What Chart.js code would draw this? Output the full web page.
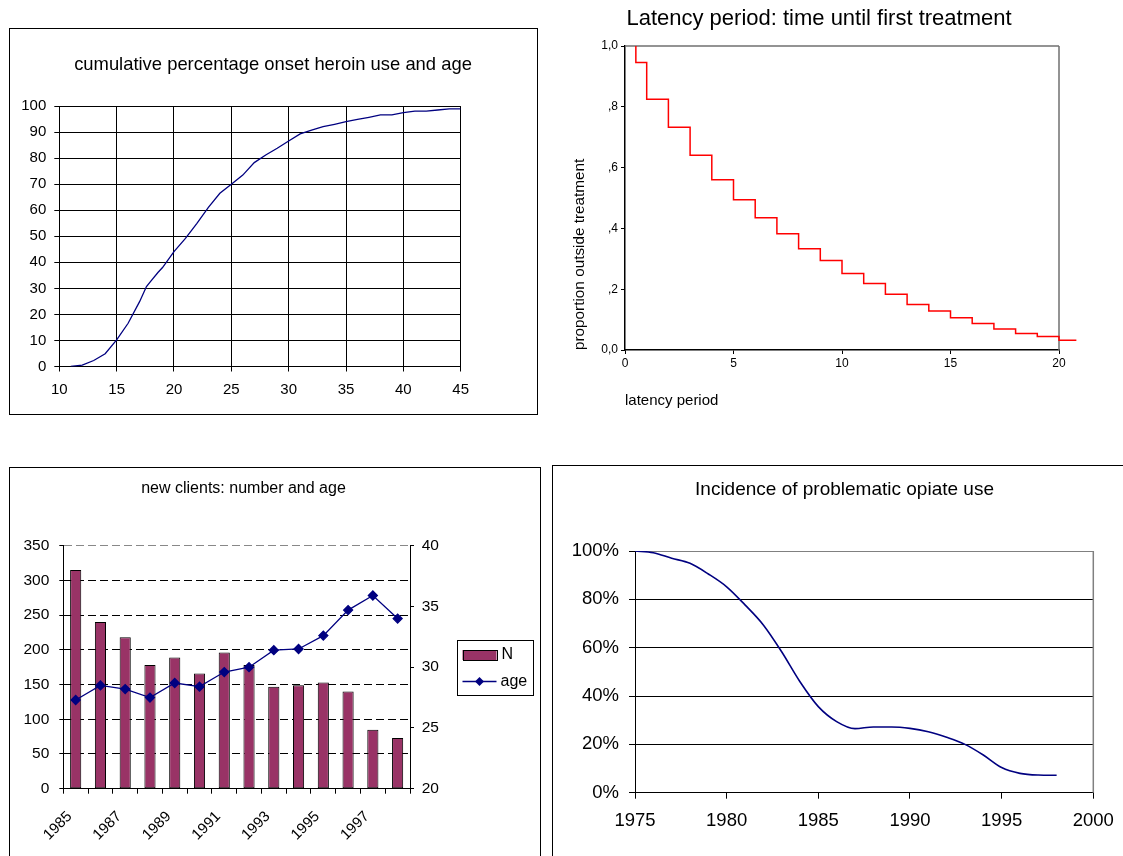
<!DOCTYPE html>
<html>
<head>
<meta charset="utf-8">
<title>Heroin use: onset, latency, new clients and incidence</title>
<script src="https://cdn.jsdelivr.net/npm/chart.js@4.4.1/dist/chart.umd.min.js"></script>
<style>
  html, body { margin: 0; padding: 0; background: #fff; overflow: hidden; }
  #page { position: relative; width: 1123px; height: 856px; overflow: hidden; background: #fff; }
  .frame { position: absolute; border: 1px solid #000; box-sizing: border-box; }
  canvas { position: absolute; }
</style>
</head>
<body>
<div id="page">
  <div class="frame" style="left:9px;top:28px;width:529px;height:387px"></div>
  <div class="frame" style="left:9px;top:467px;width:532px;height:420px"></div>
  <div class="frame" style="left:552px;top:465px;width:600px;height:420px"></div>

  <canvas id="onsetChart" width="526" height="384" style="left:10px;top:29px;width:526px;height:384px"></canvas>
  <canvas id="latencyChart" width="518" height="420" style="left:560px;top:0px;width:518px;height:420px"></canvas>
  <canvas id="clientsChart" width="529" height="388" style="left:10px;top:468px;width:529px;height:388px"></canvas>
  <canvas id="incidenceChart" width="570" height="390" style="left:553px;top:466px;width:570px;height:390px"></canvas>
</div>

<script>
// ---- data ----
// cumulative percentage of onset of heroin use, by age
const onsetAges   = [11, 12, 13, 14, 15, 16, 17, 17.6, 18, 18.6, 19,
                     20, 21, 22, 23, 24, 25, 26, 27, 28, 29, 30, 31, 32, 33, 34, 35,
                     36, 37, 38, 39, 40, 41, 42, 43, 44, 45];
const onsetCumPct = [0, 0.5, 2.3, 4.9, 10.2, 16.6, 24.9, 30.7, 32.9, 36.1, 38,
                     44.1, 49.2, 55, 61.1, 66.5, 70, 73.5, 78.3, 81.2, 83.8, 86.6, 89.3, 90.8, 92.1, 93, 94,
                     94.9, 95.7, 96.6, 96.6, 97.5, 98.1, 98.1, 98.5, 98.9, 98.9];

// proportion still outside treatment, by years since onset (step curve)
const latencyYears      = [0.5, 0.5, 1, 2, 3, 4, 5, 6, 7, 8, 9, 10, 11, 12, 13, 14, 15, 16, 17, 18, 19, 20, 20.8];
const outsideTreatment  = [1.0, 0.946, 0.825, 0.733, 0.641, 0.560, 0.494, 0.435, 0.382, 0.333, 0.294,
                           0.252, 0.219, 0.183, 0.150, 0.128, 0.106, 0.087, 0.069, 0.054, 0.044, 0.032, 0.032];
const latencyTickLabels = ['0,0', ',2', ',4', ',6', ',8', '1,0'];

// new clients per year: number and mean age
const clientYears    = ['1985', '1986', '1987', '1988', '1989', '1990', '1991',
                        '1992', '1993', '1994', '1995', '1996', '1997', '1998'];
const newClientsN    = [315, 240, 218, 178, 189, 166, 196, 178, 147, 149, 153, 140, 85, 73];
const newClientsAge  = [27.3, 28.5, 28.2, 27.5, 28.7, 28.4, 29.6, 30.0, 31.4, 31.5, 32.6, 34.7, 35.9, 34.0];

// incidence of problematic opiate use (relative to 1975)
const incidenceYears = [1975, 1976, 1977, 1978, 1979, 1980, 1981, 1982, 1983, 1984, 1985, 1986,
                        1987, 1988, 1989, 1990, 1991, 1992, 1993, 1994, 1995, 1996, 1997, 1998];
const incidencePct   = [100, 99.3, 97, 94.9, 90.5, 85.2, 77.7, 69.4, 58.3, 45.9, 35.6, 29.4,
                        26.5, 27.2, 27.2, 26.6, 25.2, 22.9, 20.0, 15.6, 10.4, 8.0, 7.3, 7.2];

// ---- shared settings ----
const FONT = "'Liberation Sans', Arial, Helvetica, sans-serif";
Chart.defaults.font.family = FONT;
Chart.defaults.color = '#000';
Chart.defaults.animation = false;
Chart.defaults.responsive = false;
Chart.defaults.plugins.legend.display = false;
Chart.defaults.plugins.tooltip.enabled = false;

const xy = (xs, ys) => xs.map((x, i) => ({ x: x, y: ys[i] }));

// fixed axis thickness so that plot areas line up on the page
const fixHeight = (h, padRight) => s => { s.height = h; s.paddingLeft = 0; s.paddingRight = padRight || 0; };
const fixWidth  = w => s => { s.width = w; s.paddingTop = 0; s.paddingBottom = 0; };

// grey top / right edges of a plot area
const edgeLines = {
  id: 'edgeLines',
  beforeDatasetsDraw(chart, args, o) {
    const { ctx, chartArea: a } = chart;
    ctx.save();
    ctx.strokeStyle = o.color || '#808080';
    ctx.lineWidth = o.width || 1;
    ctx.beginPath();
    if (o.top)   { ctx.moveTo(a.left, a.top); ctx.lineTo(a.right, a.top); }
    if (o.right) { ctx.moveTo(a.right, a.top); ctx.lineTo(a.right, a.bottom); }
    ctx.stroke();
    ctx.restore();
  }
};

// framed legend with a bar swatch and a line-with-marker swatch
const boxLegend = {
  id: 'boxLegend',
  afterDraw(chart, args, o) {
    const { ctx, chartArea: a } = chart;
    const x = a.right + o.dx, y = a.top + o.dy;
    ctx.save();
    ctx.lineWidth = 1;
    ctx.strokeStyle = '#000';
    ctx.strokeRect(Math.round(x) + 0.5, Math.round(y) + 0.5, o.width, o.height);
    ctx.font = o.fontSize + 'px ' + FONT;
    ctx.textBaseline = 'middle';
    ctx.fillStyle = '#000';
    const bars = chart.data.datasets.find(d => (d.type || 'bar') === 'bar');
    const line = chart.data.datasets.find(d => d.type === 'line');
    const sx = x + 6, sw = 34;
    // bar entry
    let cy = y + 15;
    ctx.fillStyle = bars.backgroundColor;
    ctx.fillRect(sx, cy - 5, sw, 10);
    ctx.strokeStyle = bars.borderColor;
    ctx.strokeRect(Math.round(sx) + 0.5, Math.round(cy - 5) + 0.5, sw, 10);
    ctx.fillStyle = '#000';
    ctx.fillText(bars.label, sx + sw + 5, cy);
    // line entry
    cy = y + 41.5;
    ctx.strokeStyle = line.borderColor;
    ctx.lineWidth = line.borderWidth;
    ctx.beginPath();
    ctx.moveTo(sx, cy); ctx.lineTo(sx + sw, cy);
    ctx.stroke();
    const r = line.pointRadius;
    ctx.fillStyle = line.pointBackgroundColor;
    ctx.beginPath();
    ctx.moveTo(sx + sw / 2, cy - r); ctx.lineTo(sx + sw / 2 + r, cy);
    ctx.lineTo(sx + sw / 2, cy + r); ctx.lineTo(sx + sw / 2 - r, cy);
    ctx.closePath(); ctx.fill();
    ctx.fillStyle = '#000';
    ctx.fillText(line.label, sx + sw + 4, cy);
    ctx.restore();
  }
};

// ---- cumulative onset ----
new Chart(document.getElementById('onsetChart'), {
  type: 'line',
  data: { datasets: [{
    data: xy(onsetAges, onsetCumPct),
    borderColor: '#000080', borderWidth: 1.3, pointRadius: 0, tension: 0, fill: false
  }] },
  options: {
    plugins: {
      title: { display: true, text: 'cumulative percentage onset heroin use and age',
               color: '#000', font: { size: 18.4, weight: 'normal' }, padding: { top: 25, bottom: 30.0 } }
    },
    scales: {
      x: { type: 'linear', min: 10, max: 45,
           ticks: { stepSize: 5, font: { size: 15 }, color: '#000', padding: 9.5 },
           grid: { color: '#000', tickLength: 5 }, border: { color: '#000' },
           afterFit: fixHeight(46.5, 75.3) },
      y: { min: 0, max: 100,
           ticks: { stepSize: 10, font: { size: 15 }, color: '#000', padding: 8 },
           grid: { color: '#000', tickLength: 5 }, border: { color: '#000' },
           afterFit: fixWidth(49.3) }
    }
  }
});

// ---- latency period (survival curve) ----
// the axis range is fixed after the data limits, so the tail beyond 20 is still drawn
new Chart(document.getElementById('latencyChart'), {
  type: 'line',
  data: { datasets: [{
    data: xy(latencyYears, outsideTreatment),
    stepped: 'before', borderColor: '#ff0000', borderWidth: 1.5, pointRadius: 0, fill: false, clip: false
  }] },
  plugins: [edgeLines],
  options: {
    plugins: {
      title: { display: true, text: 'Latency period: time until first treatment',
               color: '#000', font: { size: 22, weight: 'normal' }, padding: { top: 5.8, bottom: 13.8 } },
      edgeLines: { top: true, right: true, color: '#707070', width: 1.5 }
    },
    scales: {
      x: { type: 'linear',
           afterDataLimits: s => { s.min = 0; s.max = 20; },
           ticks: { stepSize: 5, font: { size: 12 }, color: '#000', padding: 2 },
           grid: { drawOnChartArea: false, color: '#000', tickLength: 4 }, border: { color: '#000', width: 1.5 },
           title: { display: true, text: 'latency period', align: 'start', color: '#000',
                    font: { size: 15 }, padding: { top: 0, bottom: 10 } },
           afterFit: fixHeight(70, 19) },
      y: { min: 0, max: 1,
           ticks: { stepSize: 0.2, font: { size: 12 }, color: '#000', padding: 3,
                    callback: (v, i) => latencyTickLabels[i] },
           grid: { drawOnChartArea: false, color: '#000', tickLength: 4 }, border: { color: '#000', width: 1.5 },
           title: { display: true, text: 'proportion outside treatment', align: 'start', color: '#000',
                    font: { size: 15.3 }, padding: { top: 11, bottom: 0 } },
           afterFit: fixWidth(65) }
    }
  }
});

// ---- new clients: number (bars) and age (line) ----
new Chart(document.getElementById('clientsChart'), {
  type: 'bar',
  data: {
    labels: clientYears,
    datasets: [
      { type: 'line', label: 'age', data: newClientsAge, yAxisID: 'y1',
        borderColor: '#000080', backgroundColor: '#000080', borderWidth: 1.3, tension: 0,
        pointStyle: 'rectRot', pointRadius: 4.5, pointBackgroundColor: '#000080', pointBorderColor: '#000080',
        order: 0 },
      { label: 'N', data: newClientsN, yAxisID: 'y',
        backgroundColor: '#993366', borderColor: '#000', borderWidth: 1, borderSkipped: false,
        barPercentage: 0.45, categoryPercentage: 1, order: 1 }
    ]
  },
  plugins: [boxLegend],
  options: {
    layout: { padding: { right: 62 } },
    plugins: {
      title: { display: true, text: 'new clients: number and age',
               color: '#000', font: { size: 16, weight: 'normal' }, padding: { top: 11.4, bottom: 47.1 } },
      boxLegend: { dx: 46.5, dy: 94.3, width: 76, height: 55, fontSize: 16 }
    },
    scales: {
      x: { offset: true,
           grid: { offset: true, drawOnChartArea: false, color: '#000', tickLength: 5 },
           border: { color: '#000' },
           ticks: { autoSkip: false, minRotation: 45, maxRotation: 45, font: { size: 15 }, color: '#000',
                    padding: 14, labelOffset: -6,
                    callback(v, i) { return i % 2 === 0 ? this.getLabelForValue(v) : ''; } },
           afterFit: fixHeight(67.3, 0) },
      y: { position: 'left', min: 0, max: 350,
           ticks: { stepSize: 50, font: { size: 15.5 }, color: '#000', padding: 10 },
           grid: { color: c => (c.tick && c.tick.value === 350) ? '#888' : '#000', tickLength: 4,
                   tickColor: '#000', tickBorderDash: [] },
           border: { color: '#000', dash: [8, 4] },
           afterFit: fixWidth(53.3) },
      y1: { position: 'right', min: 20, max: 40,
            ticks: { stepSize: 5, font: { size: 15.5 }, color: '#000', padding: 7.7 },
            grid: { drawOnChartArea: false, color: '#000', tickLength: 4 },
            border: { color: '#000' },
            afterFit: fixWidth(67) }
    }
  }
});

// ---- incidence of problematic opiate use ----
new Chart(document.getElementById('incidenceChart'), {
  type: 'line',
  data: { datasets: [{
    data: xy(incidenceYears, incidencePct),
    borderColor: '#000080', borderWidth: 1.6, pointRadius: 0, fill: false, cubicInterpolationMode: 'monotone'
  }] },
  plugins: [edgeLines],
  options: {
    layout: { padding: { left: 13 } },
    plugins: {
      title: { display: true, text: 'Incidence of problematic opiate use',
               color: '#000', font: { size: 19, weight: 'normal' }, padding: { top: 12.6, bottom: 49.6 } },
      edgeLines: { top: false, right: true, color: '#808080', width: 1.5 }
    },
    scales: {
      x: { type: 'linear', min: 1975, max: 2000,
           ticks: { stepSize: 5, font: { size: 18.5 }, color: '#000', padding: 11, callback: v => String(v) },
           grid: { drawOnChartArea: false, color: '#000', tickLength: 6 }, border: { color: '#000' },
           afterFit: fixHeight(63.3, 29.7) },
      y: { min: 0, max: 100,
           ticks: { stepSize: 20, font: { size: 18.5 }, color: '#000', padding: 10, callback: v => v + '%' },
           grid: { color: c => (c.tick && c.tick.value === 100) ? '#808080' : '#000', tickLength: 6, tickColor: '#000' },
           border: { color: '#000' },
           afterFit: fixWidth(69) }
    }
  }
});
</script>
</body>
</html>
